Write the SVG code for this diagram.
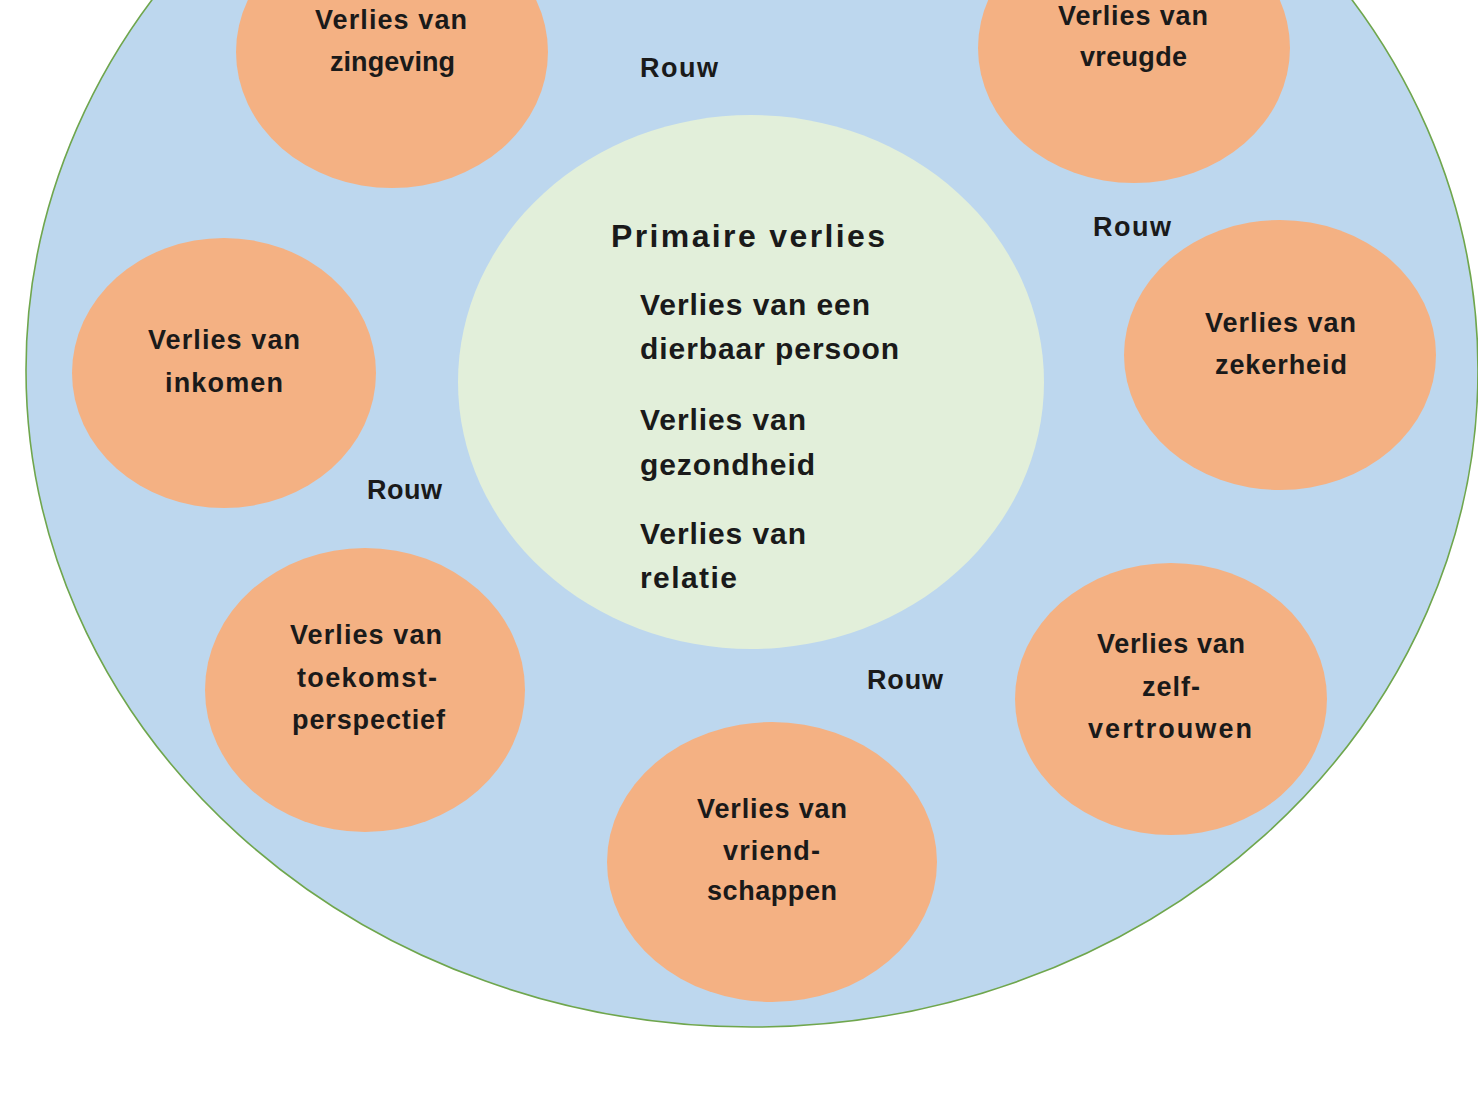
<svg xmlns="http://www.w3.org/2000/svg" width="1478" height="1100" viewBox="0 0 1478 1100">
<style>
.outer{fill:#bdd7ee;stroke:#6fa64d;stroke-width:1.6}
.core{fill:#e2efda}
.loss{fill:#f4b183}
text{font-family:"Liberation Sans",Arial,sans-serif;font-weight:bold;fill:#1a1a1a}
.s{font-size:27px}
.c{font-size:30px}
.t{font-size:32px}
.r{font-size:27px}
</style>
<rect width="1478" height="1100" fill="#ffffff"/>
<g id="outer"><ellipse class="outer" cx="752" cy="370" rx="726" ry="657"/></g>
<g id="connectors"></g>
<g id="core">
<ellipse class="core" cx="751" cy="382" rx="293" ry="267"/>
<text class="t" x="611" y="247" textLength="274" lengthAdjust="spacing">Primaire verlies</text>
<text class="c" x="640" y="315" textLength="230" lengthAdjust="spacing">Verlies van een</text>
<text class="c" x="640" y="359" textLength="259" lengthAdjust="spacing">dierbaar persoon</text>
<text class="c" x="640" y="430" textLength="166" lengthAdjust="spacing">Verlies van</text>
<text class="c" x="640" y="475" textLength="175" lengthAdjust="spacing">gezondheid</text>
<text class="c" x="640" y="544" textLength="166" lengthAdjust="spacing">Verlies van</text>
<text class="c" x="640" y="588" textLength="97" lengthAdjust="spacing">relatie</text>
</g>
<g id="zingeving">
<ellipse class="loss" cx="392" cy="52" rx="156" ry="136"/>
<text class="s" x="315" y="29" textLength="152" lengthAdjust="spacing">Verlies van</text>
<text class="s" x="330" y="71" textLength="125" lengthAdjust="spacing">zingeving</text>
</g>
<g id="vreugde">
<ellipse class="loss" cx="1134" cy="48" rx="156" ry="135"/>
<text class="s" x="1058" y="25" textLength="150" lengthAdjust="spacing">Verlies van</text>
<text class="s" x="1080" y="66" textLength="107" lengthAdjust="spacing">vreugde</text>
</g>
<g id="inkomen">
<ellipse class="loss" cx="224" cy="373" rx="152" ry="135"/>
<text class="s" x="148" y="349" textLength="152" lengthAdjust="spacing">Verlies van</text>
<text class="s" x="165" y="392" textLength="118" lengthAdjust="spacing">inkomen</text>
</g>
<g id="zekerheid">
<ellipse class="loss" cx="1280" cy="355" rx="156" ry="135"/>
<text class="s" x="1205" y="332" textLength="151" lengthAdjust="spacing">Verlies van</text>
<text class="s" x="1215" y="374" textLength="132" lengthAdjust="spacing">zekerheid</text>
</g>
<g id="toekomstperspectief">
<ellipse class="loss" cx="365" cy="690" rx="160" ry="142"/>
<text class="s" x="290" y="644" textLength="152" lengthAdjust="spacing">Verlies van</text>
<text class="s" x="297" y="687" textLength="140" lengthAdjust="spacing">toekomst-</text>
<text class="s" x="292" y="729" textLength="153" lengthAdjust="spacing">perspectief</text>
</g>
<g id="zelfvertrouwen">
<ellipse class="loss" cx="1171" cy="699" rx="156" ry="136"/>
<text class="s" x="1097" y="653" textLength="148" lengthAdjust="spacing">Verlies van</text>
<text class="s" x="1142" y="696" textLength="58" lengthAdjust="spacing">zelf-</text>
<text class="s" x="1088" y="738" textLength="164" lengthAdjust="spacing">vertrouwen</text>
</g>
<g id="vriendschappen">
<ellipse class="loss" cx="772" cy="862" rx="165" ry="140"/>
<text class="s" x="697" y="818" textLength="150" lengthAdjust="spacing">Verlies van</text>
<text class="s" x="723" y="860" textLength="97" lengthAdjust="spacing">vriend-</text>
<text class="s" x="707" y="900" textLength="130" lengthAdjust="spacing">schappen</text>
</g>
<g id="rouw-labels">
<text class="r" x="640" y="77" textLength="78" lengthAdjust="spacing">Rouw</text>
<text class="r" x="1093" y="236" textLength="78" lengthAdjust="spacing">Rouw</text>
<text class="r" x="367" y="499" textLength="75" lengthAdjust="spacing">Rouw</text>
<text class="r" x="867" y="689" textLength="76" lengthAdjust="spacing">Rouw</text>
</g>
</svg>
